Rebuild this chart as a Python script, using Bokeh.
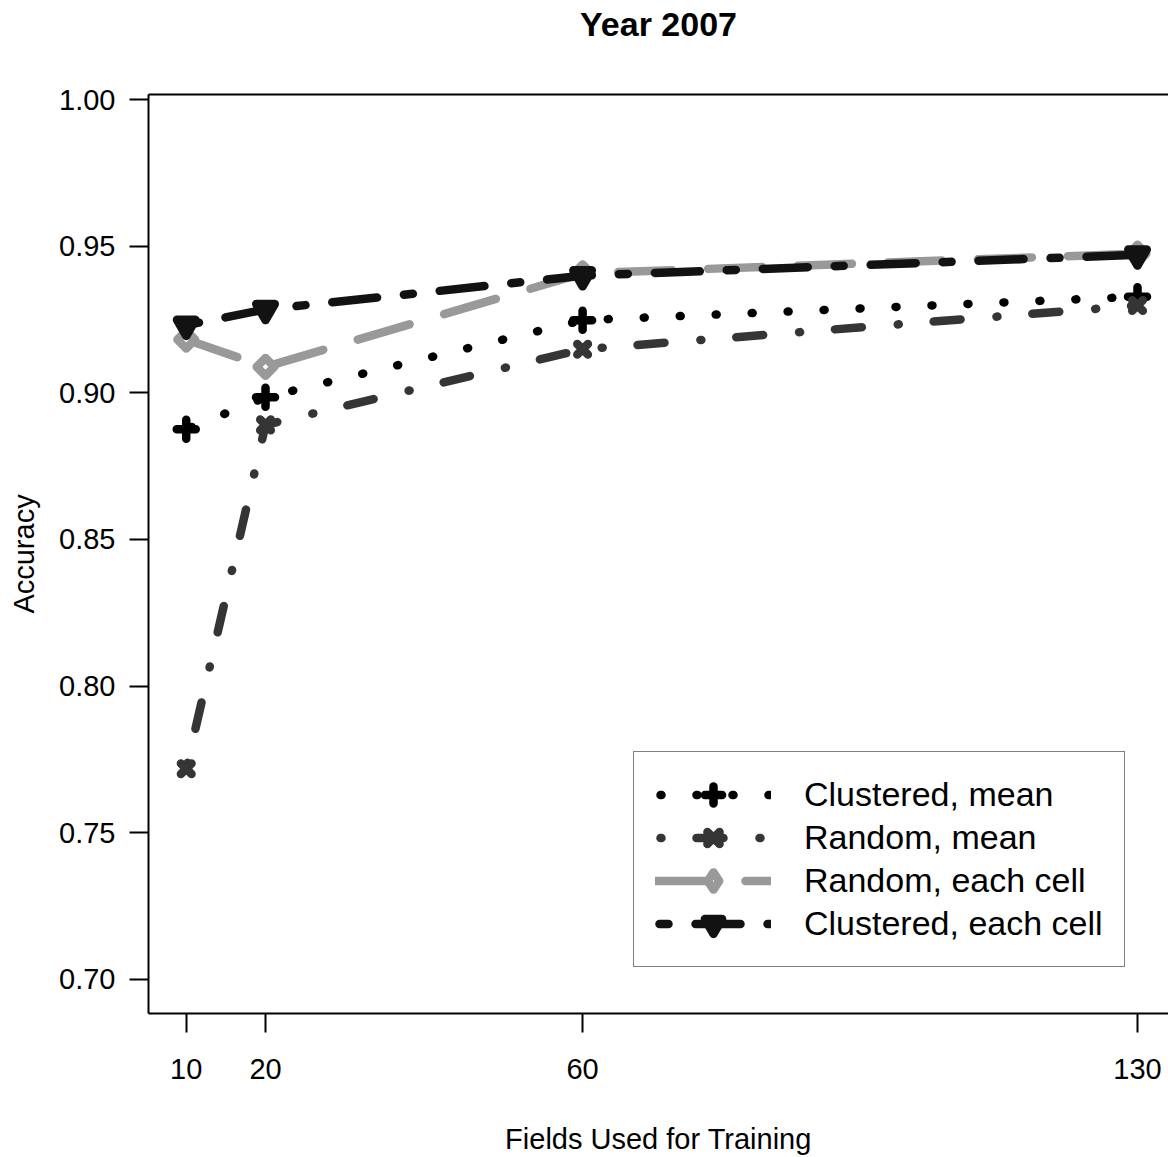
from bokeh.plotting import figure
from bokeh.models import Range1d, FixedTicker, LinearAxis, Legend, LegendItem, PrintfTickFormatter
from bokeh.embed import file_html
from bokeh.resources import INLINE
import math

# ---- data ----
fields = [10, 20, 60, 130]
clustered_mean = [0.8876, 0.8985, 0.9248, 0.9328]
random_mean = [0.7718, 0.8891, 0.9149, 0.9298]
random_each = [0.9182, 0.9089, 0.9408, 0.9475]
clustered_each = [0.9231, 0.9285, 0.9400, 0.9471]
series_names = ["Clustered, mean", "Random, mean", "Random, each cell", "Clustered, each cell"]
x_ticks = [10, 20, 60, 130]
y_ticks = [0.70, 0.75, 0.80, 0.85, 0.90, 0.95, 1.00]
title_text = "Year 2007"

FONT = "Liberation Sans"
W = 8.5

p = figure(width=1168, height=1157, output_backend="svg", toolbar_location=None,
           x_range=Range1d(5.24, 133.91), y_range=Range1d(0.6883, 1.0018),
           min_border_left=148, min_border_right=0, min_border_top=94, min_border_bottom=143,
           x_axis_label="Fields Used for Training", y_axis_label="Accuracy")
p.background_fill_color = "white"
p.border_fill_color = "white"
p.outline_line_color = None
p.xgrid.visible = False
p.ygrid.visible = False

for ax in (p.xaxis[0], p.yaxis[0]):
    ax.axis_line_width = 2
    ax.axis_line_color = "black"
    ax.major_tick_line_width = 2
    ax.major_tick_line_color = "black"
    ax.major_tick_out = 19
    ax.major_tick_in = 0
    ax.minor_tick_line_color = None
    ax.major_label_text_font = FONT
    ax.major_label_text_font_size = "29px"
    ax.major_label_text_color = "black"
    ax.axis_label_text_font = FONT
    ax.axis_label_text_font_size = "29px"
    ax.axis_label_text_font_style = "normal"
    ax.axis_label_text_color = "black"

p.xaxis.ticker = FixedTicker(ticks=x_ticks)
p.yaxis.ticker = FixedTicker(ticks=y_ticks)
p.yaxis.formatter = PrintfTickFormatter(format="%.2f")
p.xaxis.major_label_standoff = 26
p.yaxis.major_label_standoff = 14
p.xaxis.axis_label_standoff = 41
p.yaxis.axis_label_standoff = 16

# top frame line, carrying the chart title as its label
top = LinearAxis(ticker=FixedTicker(ticks=[]), axis_line_width=2, axis_line_color="black",
                 major_tick_line_color=None, minor_tick_line_color=None,
                 major_label_text_font_size="0px",
                 axis_label=title_text, axis_label_text_font=FONT,
                 axis_label_text_font_style="bold", axis_label_text_font_size="34px",
                 axis_label_text_color="black", axis_label_standoff=52)
p.add_layout(top, "above")

styles = [
    dict(ys=clustered_mean, color="black", dash="1 35", offset=31, marker="cross", size=19, fill="black"),
    dict(ys=random_mean, color="#353535", dash="1 35 27 36", offset=94, marker="x", size=15, fill="#353535"),
    dict(ys=random_each, color="#999999", dash="54 36", offset=0, marker="square", size=12.5, fill="white"),
    dict(ys=clustered_each, color="#121212", dash="9 27 45 27", offset=104, marker="inverted_triangle", size=18.5, fill="#121212"),
]

items = []
for name, st in zip(series_names, styles):
    l = p.line(fields, st["ys"], line_color=st["color"], line_width=W, line_dash=st["dash"],
               line_dash_offset=st["offset"], line_cap="round", line_join="round")
    s = p.scatter(fields, st["ys"], marker=st["marker"], size=st["size"],
                  line_color=st["color"], line_width=W, fill_color=st["fill"],
                  line_join="round", line_cap="round",
                  angle=(math.pi / 4 if st["marker"] == "square" else 0))
    rends = [l, s]
    if st["marker"] == "square":
        # legend-only diamond (legend glyphs ignore marker angle)
        d = p.scatter(fields, st["ys"], marker="diamond", size=19,
                      line_color=st["color"], line_width=W, fill_color=st["fill"],
                      line_join="round", visible=False)
        rends = [l, d]
    items.append(LegendItem(label=name, renderers=rends))

legend = Legend(items=items, location=(485, 46), padding=21, spacing=0,
                glyph_width=116, glyph_height=43, label_height=43, label_standoff=33,
                label_text_font=FONT, label_text_font_size="34px", label_text_color="black",
                border_line_color="black", border_line_width=1.5, background_fill_color="white",
                background_fill_alpha=1.0, margin=0)
p.add_layout(legend)

open("out.html", "w").write(file_html(p, INLINE))
